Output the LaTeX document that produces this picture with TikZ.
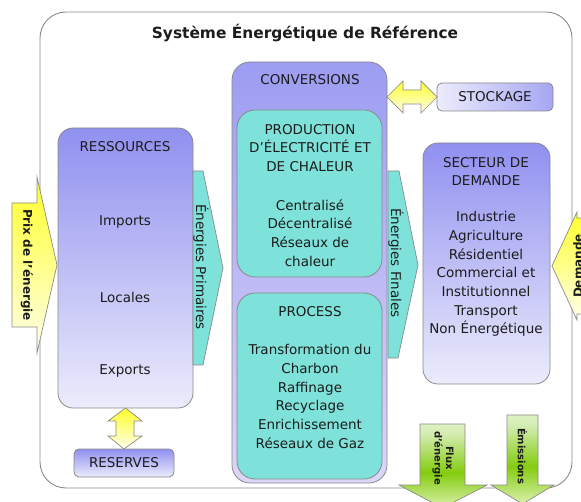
\documentclass[tikz,border=0pt]{standalone}
\usepackage{fontspec}
\setmainfont{DejaVu Sans}
\definecolor{txt}{HTML}{1C1C1C}
\definecolor{edge}{HTML}{8A8A8A}
\definecolor{pdark}{HTML}{9090F0}
\definecolor{plight}{HTML}{ECECFC}
\definecolor{cdark}{HTML}{9C9CF2}
\definecolor{clight}{HTML}{DCD6F8}
\definecolor{teal}{HTML}{7EE2DA}
\definecolor{yel}{HTML}{FFFF2A}
\definecolor{yelw}{HTML}{FFFFEC}
\definecolor{gA}{HTML}{F4FAEC}
\definecolor{gB}{HTML}{D0EC98}
\definecolor{gC}{HTML}{84CC10}
\definecolor{gD}{HTML}{D6EEB6}
\definecolor{gE}{HTML}{FFFFFF}
\pgfdeclareverticalshading{greenarrow}{100bp}{color(0bp)=(gA); color(28bp)=(gB); color(46bp)=(gC); color(70bp)=(gD); color(100bp)=(gE)}
\newcommand\txtfont{\fontsize{13.5}{18.7}\selectfont}
\begin{document}
\begin{tikzpicture}[x=1pt,y=-1pt,
  every node/.style={inner sep=0pt, outer sep=0pt, text=txt},
  lbl/.style={font=\txtfont, align=center},
  pbox/.style={draw=edge, line width=0.8pt, top color=pdark, bottom color=plight},
  tbox/.style={draw=edge, line width=0.8pt, fill=teal},
  yarrow/.style={draw=edge, line width=0.7pt, top color=yel, bottom color=yelw},
  tarrow/.style={draw=edge, line width=0.7pt, fill=teal},
  garrow/.style={draw=edge, line width=0.7pt, shading=greenarrow}]
\clip (0,0) rectangle (581,502);
\useasboundingbox (0,0) rectangle (581,502);
% outer frame
\node[draw=edge, line width=0.9pt, fill=white, rounded corners=26pt,
  minimum width=532pt, minimum height=476pt] (frame) at (306,250) {};
\node[font=\fontsize{15.4}{18}\selectfont\bfseries] (title) at (305,33) {Système Énergétique de Référence};
% boxes
\node[pbox, rounded corners=15pt, minimum width=135pt, minimum height=280pt] (res) at (125.5,268) {};
\node[draw=edge, line width=0.8pt, top color=cdark, bottom color=clight, rounded corners=18pt,
  minimum width=155pt, minimum height=421pt] (conv) at (309.5,272.5) {};
\node[tbox, rounded corners=18pt, minimum width=145pt, minimum height=167pt] (prod) at (309.5,193.5) {};
\node[tbox, rounded corners=18pt, minimum width=145pt, minimum height=186pt] (proc) at (309.5,386) {};
\node[pbox, rounded corners=15pt, minimum width=127pt, minimum height=241pt] (dem) at (486.5,263.5) {};
\node[draw=edge, line width=0.8pt, left color=plight, right color=pdark!80, rounded corners=5pt,
  minimum width=116pt, minimum height=28pt] (stock) at (495,97) {};
\node[pbox, rounded corners=5pt, minimum width=100pt, minimum height=28pt] (resv) at (124,463) {};
% texts
\node[lbl] (convt) at (310,80) {CONVERSIONS};
\node[lbl] (prodt) at (310,148) {PRODUCTION\\D'ÉLECTRICITÉ ET\\DE CHALEUR};
\node[lbl] (prodl) at (310,233) {Centralisé\\Décentralisé\\Réseaux de\\chaleur};
\node[lbl] (proct) at (310,312) {PROCESS};
\node[lbl] (procl) at (310,396.5) {Transformation du\\Charbon\\Raffinage\\Recyclage\\Enrichissement\\Réseaux de Gaz};
\node[lbl] (rest) at (125,147) {RESSOURCES};
\node[lbl] (imp) at (125,222) {Imports};
\node[lbl] (loc) at (125,297) {Locales};
\node[lbl] (exp) at (125,371) {Exports};
\node[lbl] (demt) at (486,171.5) {SECTEUR DE\\DEMANDE};
\node[lbl] (deml) at (486,274) {Industrie\\Agriculture\\Résidentiel\\Commercial et\\Institutionnel\\Transport\\Non Énergétique};
\node[lbl] (stockt) at (495,97) {STOCKAGE};
\node[lbl] (resvt) at (124,463) {RESERVES};
% yellow double arrows
\path[yarrow] (res.south) -- (142,421) -- (134,421) -- (134,436) -- (142,436) -- (resv.north)
  -- (108,436) -- (116,436) -- (116,421) -- (108,421) -- cycle;
\path[yarrow] (387,97) -- (403,81) -- (403,90) -- (421,90) -- (421,81) -- (stock.west)
  -- (421,113) -- (421,104) -- (403,104) -- (403,113) -- cycle;
% teal arrows
\path[tarrow] (193,171) -- (203,171) -- (223,268) -- (203,365) -- (193,365) -- cycle;
\node[rotate=-90, font=\txtfont] (prim) at (201,267) {Énergies Primaires};
\path[tarrow] (388,171) -- (399,171) -- (418,265) -- (398,358) -- (388,358) -- cycle;
\node[rotate=-90, font=\txtfont] (fin) at (396,263) {Énergies Finales};
% price / demand arrows
\path[yarrow] (12,203) -- (37,203) -- (37,177) -- (57,265) -- (37,353) -- (37,327) -- (12,327) -- cycle;
\node[rotate=-90, font=\fontsize{12}{14}\selectfont\bfseries] (prix) at (27,265) {Prix de l'énergie};
\path[yarrow] (600,218) -- (577,218) -- (577,212) -- (552,266) -- (577,320) -- (577,314) -- (600,314) -- cycle;
\node[rotate=90, font=\fontsize{12}{14}\selectfont\bfseries] (demd) at (578,266) {Demande};
% green arrows
\path[garrow] (420,424) -- (465,424) -- (465,485) -- (487,485) -- (442.5,508) -- (399,485) -- (420,485) -- cycle;
\node[rotate=-90, align=center, font=\fontsize{10}{11.5}\selectfont\bfseries] (flux) at (443,458) {Flux\\d'énergie};
\path[garrow] (507,415) -- (538,415) -- (538,485) -- (554,485) -- (522.5,504) -- (491,485) -- (507,485) -- cycle;
\node[rotate=-90, font=\fontsize{10}{12}\selectfont\bfseries] (emis) at (522.5,456) {Émissions};
\end{tikzpicture}
\end{document}
